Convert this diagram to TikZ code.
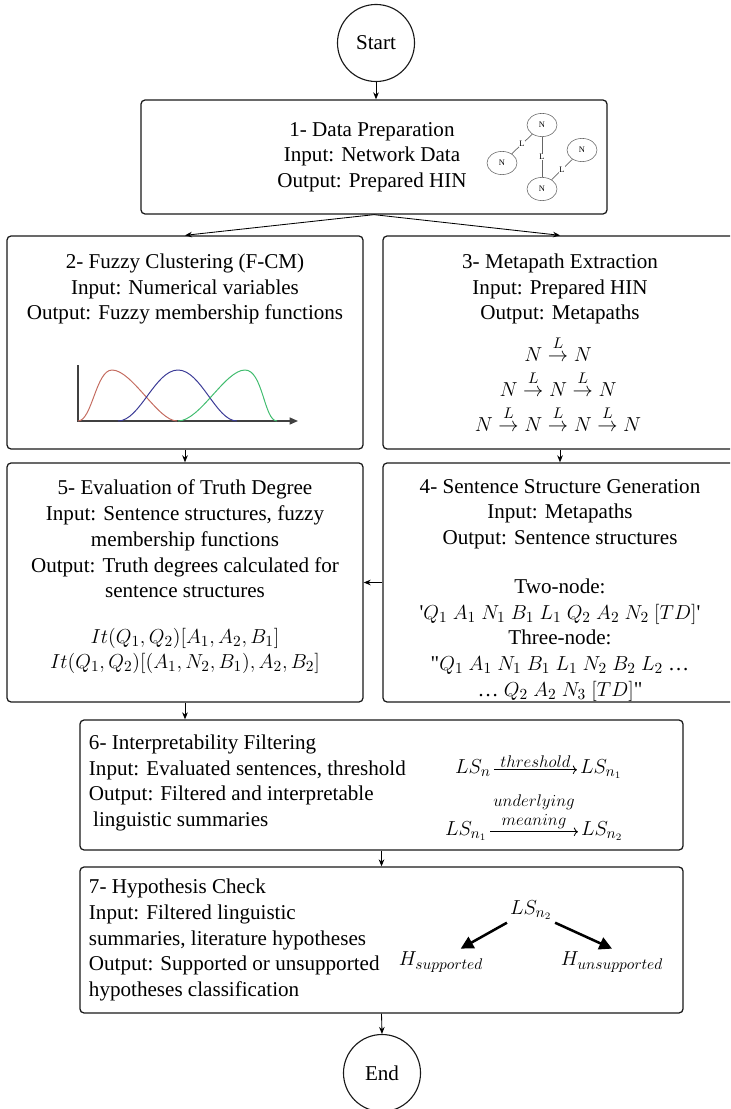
\documentclass[tikz,border=0pt]{standalone}
\usepackage{fontspec}
\setmainfont{Liberation Serif}
\usetikzlibrary{arrows.meta,shapes.geometric}

\definecolor{mfred}{RGB}{196,108,96}
\definecolor{mfblue}{RGB}{58,58,150}
\definecolor{mfgreen}{RGB}{64,188,110}
\newcommand{\lto}{\mathrel{\stackrel{\raisebox{2pt}{$\scriptstyle L$}}{\rightarrow}}}

\tikzset{
  box/.style={draw=black!90, line width=0.9pt, rounded corners=3pt},
  term/.style={draw=black!90, circle, line width=0.8pt, minimum size=1.925cm, inner sep=0pt},
  flow/.style={-{Stealth[length=5pt,width=4pt]}, line width=0.6pt},
  bigarr/.style={-{Triangle[length=9pt,width=9pt]}, line width=1.8pt},
  nd/.style={draw=black!60, ellipse, line width=0.4pt, minimum width=0.75cm, minimum height=0.58cm, inner sep=0pt, font=\fontsize{6}{7}\selectfont},
  edge/.style={draw=black!60, line width=0.5pt},
  lab/.style={fill=white, inner sep=0.4pt, font=\fontsize{6}{7}\selectfont},
  lbl/.style={inner sep=1.5pt, font=\fontsize{13}{14}\selectfont}
}

\begin{document}
\begin{tikzpicture}[x=0.025cm, y=-0.025cm, every node/.style={font=\fontsize{15}{18.3}\selectfont}]
\clip (0,0) rectangle (730,1109);
%%%%% START / END %%%%%
\node[term] (start) at (376,43) {Start};
\node[term] (end) at (382,1073) {End};

%%%%% BOXES %%%%%
\node[box, minimum width=11.65cm, minimum height=2.85cm] (b1) at (374,157) {};
\node[box, minimum width=8.9cm, minimum height=5.325cm] (b2) at (185,342.5) {};
\node[box, minimum width=8.85cm, minimum height=5.325cm] (b3) at (560,342.5) {};
\node[box, minimum width=8.9cm, minimum height=5.975cm] (b5) at (185,582.5) {};
\node[box, minimum width=8.85cm, minimum height=5.975cm] (b4) at (560,582.5) {};
\node[box, minimum width=15.075cm, minimum height=3.25cm] (b6) at (381.5,785) {};
\node[box, minimum width=15.075cm, minimum height=3.65cm] (b7) at (381.5,940) {};

%%%%% 1 %%%%%
\node[align=center] (t1) at (372,157) {1- Data Preparation\\Input: Network Data\\Output: Prepared HIN};
\node[nd] (nT) at (542,125) {N};
\node[nd] (nL) at (502,163) {N};
\node[nd] (nR) at (582,150) {N};
\node[nd] (nB) at (542,189) {N};
\draw[edge] (nT) -- node[lab] {L} (nL);
\draw[edge] (nT) -- node[lab] {L} (nB);
\draw[edge] (nB) -- node[lab] {L} (nR);

%%%%% 2 %%%%%
\node[align=center] (t2) at (185,289) {2- Fuzzy Clustering (F-CM)\\Input: Numerical variables\\Output: Fuzzy membership functions};
\draw[black!75, line width=1pt, -{Triangle[length=6pt,width=5pt]}] (78,365) -- (78,421) -- (298,421);
\draw[mfred, line width=0.7pt] (78,421) .. controls (92,421) and (96,370) .. (112,370) .. controls (132,370) and (158,421) .. (177,421);
\draw[mfblue, line width=0.7pt] (118,421) .. controls (140,421) and (155,370) .. (178,370) .. controls (201,370) and (216,421) .. (237,421);
\draw[mfgreen, line width=0.7pt] (178,421) .. controls (200,421) and (225,370) .. (245,370) .. controls (263,370) and (264,421) .. (277,421);

%%%%% 3 %%%%%
\node[align=center] (t3) at (560,289) {3- Metapath Extraction\\Input: Prepared HIN\\Output: Metapaths};
\node (mp1) at (558,349) {$N \lto N$};
\node (mp2) at (558,384) {$N \lto N \lto N$};
\node (mp3) at (558,419) {$N \lto N \lto N \lto N$};

%%%%% 4 %%%%%
\node[align=center] (t4) at (560,514) {4- Sentence Structure Generation\\Input: Metapaths\\Output: Sentence structures};
\node[align=center] (s4) at (560,640) {Two-node:\\
  \textquotesingle$Q_1\ A_1\ N_1\ B_1\ L_1\ Q_2\ A_2\ N_2\ [TD]$\textquotesingle\\
  Three-node:\\
  \textquotedbl$Q_1\ A_1\ N_1\ B_1\ L_1\ N_2\ B_2\ L_2$ \ldots\\
  \ldots\ $Q_2\ A_2\ N_3\ [TD]$\textquotedbl};

%%%%% 5 %%%%%
\node[align=center] (t5) at (185,539) {5- Evaluation of Truth Degree\\Input: Sentence structures, fuzzy\\membership functions\\Output: Truth degrees calculated for\\sentence structures};
\node[align=center] (f5) at (185,651) {$It(Q_1,Q_2)[A_1,A_2,B_1]$\\$It(Q_1,Q_2)[(A_1,N_2,B_1),A_2,B_2]$};

%%%%% 6 %%%%%
\node[align=left, anchor=west] (t6) at (84,783) {6- Interpretability Filtering\\Input: Evaluated sentences, threshold\\Output: Filtered and interpretable\\\hspace*{3pt}linguistic summaries};
\node[anchor=base, inner sep=2pt] (lsA) at (473,773) {$LS_n$};
\node[anchor=base, inner sep=2pt] (lsB) at (601,773) {$LS_{n_1}$};
\node[anchor=base, inner sep=2pt] (lsC) at (466,835) {$LS_{n_1}$};
\node[anchor=base, inner sep=2pt] (lsD) at (602,835) {$LS_{n_2}$};
\draw[->, line width=0.6pt] (lsA.mid east) -- node[above, lbl] {$threshold$} (lsA.mid east -| lsB.west);
\draw[->, line width=0.6pt] (lsC.mid east) -- node[above, lbl, align=center] {$underlying$\\$meaning$} (lsC.mid east -| lsD.west);

%%%%% 7 %%%%%
\node[align=left, anchor=west] (t7) at (84,940) {7- Hypothesis Check\\Input: Filtered linguistic\\summaries, literature hypotheses\\Output: Supported or unsupported\\hypotheses classification};
\node[inner sep=2pt] (lsTop) at (531,910) {$LS_{n_2}$};
\node[inner sep=2pt] (hSup) at (441,962) {$H_{supported}$};
\node[inner sep=2pt] (hUns) at (612,962) {$H_{unsupported}$};
\draw[bigarr] (lsTop.south west) -- ([xshift=14pt]hSup.north);
\draw[bigarr] (lsTop.south east) -- (hUns.north);

%%%%% CONNECTORS %%%%%
\draw[flow] (start.south) -- (start.south |- b1.north);
\draw[flow] (b1.south) -- (b2.north);
\draw[flow] (b1.south) -- (b3.north);
\draw[flow] (b2.south) -- (b5.north);
\draw[flow] (b3.south) -- (b4.north);
\draw[flow] (b4.west) -- (b5.east);
\draw[flow] (b5.south) -- (b5.south |- b6.north);
\draw[flow] (b6.south) -- (b7.north);
\draw[flow] (b7.south) -- (end.north);
\end{tikzpicture}
\end{document}
